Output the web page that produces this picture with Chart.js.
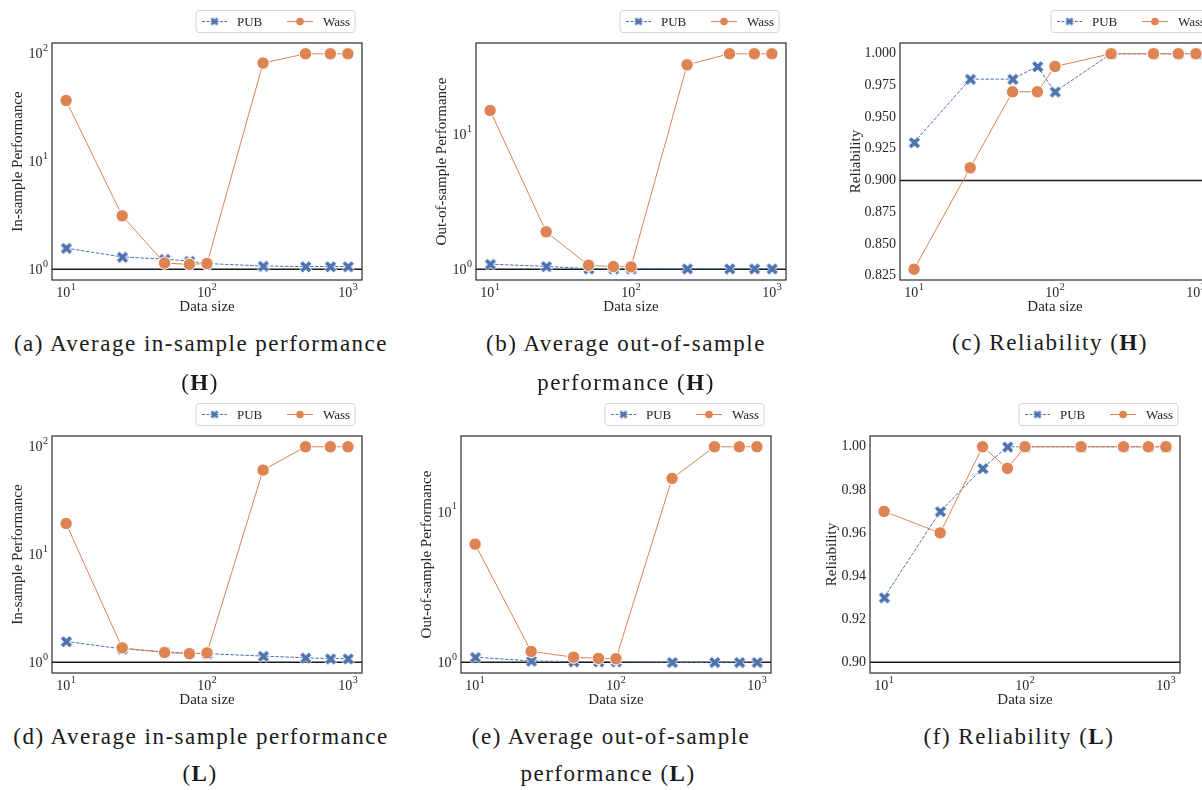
<!DOCTYPE html>
<html>
<head>
<meta charset="utf-8">
<script src="https://cdn.jsdelivr.net/npm/chart.js@4.4.1/dist/chart.umd.min.js"></script>
<style>
  html, body { margin: 0; padding: 0; background: #fff; }
  body { width: 1202px; height: 790px; position: relative; overflow: hidden; }
  canvas { position: absolute; }
  .cap {
    position: absolute; font-family: "Liberation Serif", serif; font-size: 23px;
    letter-spacing: 1.5px; color: #1a1a1a; white-space: nowrap;
    transform: translate(-50%, -50%); line-height: 1;
  }
</style>
</head>
<body>
<canvas id="pa" width="400" height="320"></canvas>
<canvas id="pb" width="400" height="320"></canvas>
<canvas id="pc" width="400" height="320"></canvas>
<canvas id="pd" width="400" height="320"></canvas>
<canvas id="pe" width="400" height="320"></canvas>
<canvas id="pf" width="400" height="320"></canvas>

<div class="cap" style="left:201px;top:343px">(a) Average in-sample performance</div>
<div class="cap" style="left:200px;top:382px">(<b>H</b>)</div>
<div class="cap" style="left:626px;top:343px">(b) Average out-of-sample</div>
<div class="cap" style="left:626px;top:382px">performance (<b>H</b>)</div>
<div class="cap" style="left:1050px;top:342px">(c) Reliability (<b>H</b>)</div>
<div class="cap" style="left:201px;top:736px">(d) Average in-sample performance</div>
<div class="cap" style="left:200px;top:773px">(<b>L</b>)</div>
<div class="cap" style="left:611px;top:736px">(e) Average out-of-sample</div>
<div class="cap" style="left:608px;top:773px">performance (<b>L</b>)</div>
<div class="cap" style="left:1019px;top:736px">(f) Reliability (<b>L</b>)</div>

<script>
// tailles d'échantillon (axe x)
const sizes = [10, 25, 50, 75, 100, 250, 500, 750, 1000];

// (a) in-sample, H
const pubInH  = [1.57, 1.30, 1.24, 1.19, 1.13, 1.07, 1.06, 1.06, 1.06];
const wassInH = [36.8, 3.13, 1.14, 1.11, 1.13, 82, 100, 100, 100];
// (b) out-of-sample, H
const pubOutH  = [1.09, 1.05, 1.01, 1.01, 1.01, 1.01, 1.01, 1.01, 1.01];
const wassOutH = [14.9, 1.89, 1.07, 1.045, 1.04, 32.4, 39.1, 39.1, 39.1];
// (c) reliability, H
const pubRelH  = [0.93, 0.98, 0.98, 0.99, 0.97, 1.0, 1.0, 1.0, 1.0];
const wassRelH = [0.83, 0.91, 0.97, 0.97, 0.99, 1.0, 1.0, 1.0, 1.0];
// (d) in-sample, L
const pubInL  = [1.56, 1.33, 1.25, 1.21, 1.20, 1.14, 1.10, 1.08, 1.08];
const wassInL = [19.4, 1.36, 1.23, 1.20, 1.22, 60.7, 100, 100, 100];
// (e) out-of-sample, L
const pubOutL  = [1.08, 1.02, 1.01, 1.01, 1.01, 1.0, 1.0, 1.0, 1.0];
const wassOutL = [6.1, 1.18, 1.08, 1.06, 1.055, 16.7, 27.1, 27.1, 27.1];
// (f) reliability, L
const pubRelL  = [0.93, 0.97, 0.99, 1.0, 1.0, 1.0, 1.0, 1.0, 1.0];
const wassRelL = [0.97, 0.96, 1.0, 0.99, 1.0, 1.0, 1.0, 1.0, 1.0];

const xTickPowers = [1, 2, 3];

const BLUE = "#4c72b0";
const ORANGE = "#dd8452";
const INK = "#262626";
const SERIF = '"Liberation Serif", "Times New Roman", serif';

// marqueur X plein (comme matplotlib 'X')
function makeX(size, edge) {
  const c = document.createElement("canvas");
  const s = size + 2 * edge + 2;
  c.width = s; c.height = s;
  const g = c.getContext("2d");
  const pts = [[.25,0],[.5,.25],[.75,0],[1,.25],[.75,.5],[1,.75],[.75,1],[.5,.75],[.25,1],[0,.75],[.25,.5],[0,.25]];
  const o = (s - size) / 2;
  g.beginPath();
  pts.forEach((p, i) => {
    const px = o + p[0] * size, py = o + p[1] * size;
    if (i === 0) g.moveTo(px, py); else g.lineTo(px, py);
  });
  g.closePath();
  g.fillStyle = BLUE;
  g.fill();
  if (edge > 0) {
    g.strokeStyle = "#fff";
    g.lineWidth = edge;
    g.stroke();
  }
  return c;
}
const xMarker = makeX(12, 0.8);
const xMarkerSmall = makeX(8, 0);

function drawPow(ctx, n, x, y, align) {
  ctx.font = "14px " + SERIF;
  const wb = ctx.measureText("10").width;
  ctx.font = "10px " + SERIF;
  const ws = ctx.measureText(String(n)).width;
  const total = wb + ws + 0.5;
  const x0 = align === "right" ? x - total : x - total / 2;
  ctx.textAlign = "left";
  ctx.textBaseline = "middle";
  ctx.fillStyle = INK;
  ctx.font = "14px " + SERIF;
  ctx.fillText("10", x0, y + 1);
  ctx.font = "10px " + SERIF;
  ctx.fillText(String(n), x0 + wb + 0.5, y - 5);
}

const decoPlugin = {
  id: "deco",
  beforeDatasetsDraw(chart, args, opts) {
    const { ctx, chartArea: a, scales: { y } } = chart;
    const yy = y.getPixelForValue(opts.refLine);
    ctx.save();
    ctx.strokeStyle = "#1a1a1a";
    ctx.lineWidth = 1.5;
    ctx.beginPath();
    ctx.moveTo(a.left, yy);
    ctx.lineTo(a.right, yy);
    ctx.stroke();
    ctx.restore();
  },
  afterDatasetsDraw(chart, args, opts) {
    const { ctx, chartArea: a, scales: { x, y } } = chart;
    ctx.save();
    // cadre
    ctx.strokeStyle = "#333";
    ctx.lineWidth = 1.25;
    ctx.strokeRect(a.left, a.top, a.right - a.left, a.bottom - a.top);

    // ticks x (10^n)
    xTickPowers.forEach(n => {
      drawPow(ctx, n, x.getPixelForValue(Math.pow(10, n)), a.bottom + 12, "center");
    });
    // ticks y log
    if (opts.logY) {
      const lo = Math.ceil(Math.log10(y.min)), hi = Math.floor(Math.log10(y.max));
      for (let n = lo; n <= hi; n++) {
        drawPow(ctx, n, a.left - 4, y.getPixelForValue(Math.pow(10, n)), "right");
      }
    }

    // légende
    const bw = 159, bh = 22;
    const bx = a.right - 166 + (opts.legendShift || 0);
    const by = 10.5;
    const cy = by + bh / 2;
    ctx.beginPath();
    ctx.roundRect(bx, by, bw, bh, 3);
    ctx.fillStyle = "#fff";
    ctx.fill();
    ctx.strokeStyle = "#d5d5d5";
    ctx.lineWidth = 1;
    ctx.stroke();

    ctx.strokeStyle = BLUE;
    ctx.setLineDash([3, 1.5]);
    ctx.beginPath();
    ctx.moveTo(bx + 6, cy); ctx.lineTo(bx + 31, cy);
    ctx.stroke();
    ctx.setLineDash([]);
    ctx.drawImage(xMarkerSmall, bx + 18.5 - xMarkerSmall.width / 2, cy - xMarkerSmall.height / 2);

    ctx.strokeStyle = ORANGE;
    ctx.beginPath();
    ctx.moveTo(bx + 91, cy); ctx.lineTo(bx + 117, cy);
    ctx.stroke();
    ctx.fillStyle = ORANGE;
    ctx.beginPath();
    ctx.arc(bx + 104, cy, 3.8, 0, Math.PI * 2);
    ctx.fill();

    ctx.fillStyle = INK;
    ctx.font = "13px " + SERIF;
    ctx.textAlign = "left";
    ctx.textBaseline = "middle";
    ctx.fillText("PUB", bx + 41, cy + 1);
    ctx.fillText("Wass", bx + 127, cy + 1);
    ctx.restore();
  }
};

function criarPainel(id, left, top, cfg) {
  const canvas = document.getElementById(id);
  canvas.style.left = (left - 60) + "px";
  canvas.style.top = (top - 43) + "px";

  const all = cfg.pub.concat(cfg.wass);
  let yMin, yMax;
  if (cfg.logY) {
    const lo = Math.log10(Math.min(cfg.refLine, ...all));
    const hi = Math.log10(Math.max(...all));
    const pad = (hi - lo) * 0.05;
    yMin = Math.pow(10, lo - pad);
    yMax = Math.pow(10, hi + pad);
  } else {
    const lo = Math.min(cfg.refLine, ...all);
    const hi = Math.max(...all);
    const pad = (hi - lo) * 0.05;
    yMin = lo - pad;
    yMax = hi + pad;
  }

  const yScale = {
    type: cfg.logY ? "logarithmic" : "linear",
    min: yMin,
    max: yMax,
    grid: { display: false, drawTicks: false },
    border: { display: false },
    ticks: cfg.logY ? { display: false } : {
      display: true,
      stepSize: cfg.step,
      includeBounds: false,
      padding: 4,
      color: INK,
      font: { family: SERIF, size: 14 },
      callback: v => v.toFixed(cfg.digits)
    },
    title: {
      display: true,
      text: cfg.yTitle,
      color: INK,
      font: { family: SERIF, size: 15 },
      padding: { top: cfg.titlePad, bottom: 0 }
    },
    afterFit: s => { s.width = 60; }
  };

  new Chart(canvas.getContext("2d"), {
    type: "line",
    data: {
      datasets: [
        {
          label: "PUB",
          data: sizes.map((x, i) => ({ x, y: cfg.pub[i] })),
          borderColor: BLUE,
          borderWidth: 1,
          borderDash: [3.5, 1.5],
          pointStyle: xMarker,
          pointRadius: 6,
          order: 2,
          clip: false
        },
        {
          label: "Wass",
          data: sizes.map((x, i) => ({ x, y: cfg.wass[i] })),
          borderColor: ORANGE,
          borderWidth: 1,
          pointBackgroundColor: ORANGE,
          pointBorderColor: "#fff",
          pointBorderWidth: 1,
          pointRadius: 6.2,
          order: 1,
          clip: false
        }
      ]
    },
    options: {
      responsive: false,
      animation: false,
      events: [],
      layout: { padding: { left: 0, top: 43, right: 30, bottom: 0 } },
      scales: {
        x: {
          type: "logarithmic",
          min: Math.pow(10, 0.9),
          max: Math.pow(10, 3.1),
          grid: { display: false, drawTicks: false },
          border: { display: false },
          ticks: { display: false },
          title: {
            display: true,
            text: "Data size",
            color: INK,
            font: { family: SERIF, size: 15 },
            padding: { top: 0, bottom: 3.6 }
          },
          afterFit: s => { s.height = 40; }
        },
        y: yScale
      },
      plugins: {
        legend: { display: false },
        tooltip: { enabled: false },
        deco: { refLine: cfg.refLine, logY: cfg.logY, legendShift: cfg.legendShift || 0 }
      }
    },
    plugins: [decoPlugin]
  });
}

criarPainel("pa", 52, 43, { pub: pubInH, wass: wassInH, logY: true, refLine: 1, yTitle: "In-sample Performance", titlePad: 17 });
criarPainel("pb", 476, 43, { pub: pubOutH, wass: wassOutH, logY: true, refLine: 1, yTitle: "Out-of-sample Performance", titlePad: 17 });
criarPainel("pc", 900, 43, { pub: pubRelH, wass: wassRelH, logY: false, refLine: 0.9, step: 0.025, digits: 3, yTitle: "Reliability", titlePad: 7, legendShift: 7 });
criarPainel("pd", 52, 436, { pub: pubInL, wass: wassInL, logY: true, refLine: 1, yTitle: "In-sample Performance", titlePad: 17 });
criarPainel("pe", 461, 436, { pub: pubOutL, wass: wassOutL, logY: true, refLine: 1, yTitle: "Out-of-sample Performance", titlePad: 17 });
criarPainel("pf", 870, 436, { pub: pubRelL, wass: wassRelL, logY: false, refLine: 0.9, step: 0.02, digits: 2, yTitle: "Reliability", titlePad: 13, legendShift: 5 });
</script>
</body>
</html>
